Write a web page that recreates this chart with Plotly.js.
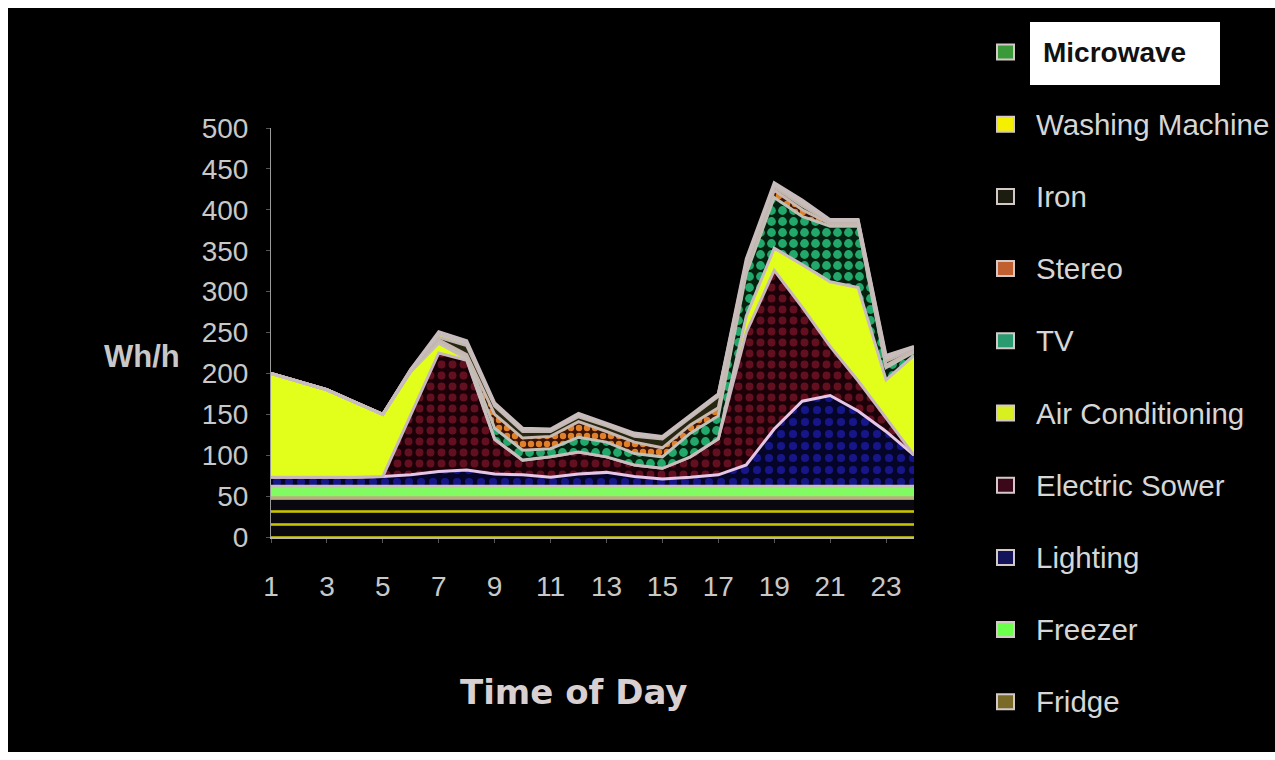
<!DOCTYPE html>
<html><head><meta charset="utf-8">
<script src="https://cdn.plot.ly/plotly-3.0.1.min.js"></script>
<style>
html,body{margin:0;padding:0;background:#ffffff;}
#chart{position:absolute;left:8px;top:8px;width:1267px;height:744px;}
</style></head><body><div id="chart"></div>
<script>
// ---- data (Wh/h per appliance, hours 1..24) ----
const hours = [1,2,3,4,5,6,7,8,9,10,11,12,13,14,15,16,17,18,19,20,21,22,23,24];
const fridge = [48,48,48,48,48,48,48,48,48,48,48,48,48,48,48,48,48,48,48,48,48,48,48,48];
const freezer = [14,14,14,14,14,14,14,14,14,14,14,14,14,14,14,14,14,14,14,14,14,14,14,14];
const lighting = [11,11,11,11,12,14,18,20,15,14,11,15,17,12,9,11,14,26,70,104,111,92,67,38];
const electricSower = [0,0,0,0,0,74,145,134,42,18,25,27,19,14,13,25,44,162,194,115,60,37,16,0];
const airConditioning = [127,117,107,92,76,52,12,2,1,0,0,0,0,0,0,0,0,20,27,52,79,114,47,122];
const tv = [0,0,0,0,0,1,3,3,13,12,10,18,18,14,14,29,28,52,62,59,68,75,15,4];
const stereo = [0,0,0,0,0,0,1,2,17,15,15,19,13,14,11,10,10,5,9,8,3,3,3,2];
const iron = [0,0,0,0,0,1,3,11,10,8,6,6,7,7,11,9,14,5,4,5,2,2,5,2];
const washingMachine = [0,0,0,0,0,1,4,3,2,2,2,2,2,2,2,2,2,4,3,4,2,2,4,2];
const microwave = [0,0,0,0,0,0,3,3,2,2,1,2,1,2,1,1,1,4,2,3,1,1,3,1];

const seriesNames = ['Fridge','Freezer','Lighting','Electric Sower','Air Conditioning','TV','Stereo','Iron','Washing Machine','Microwave'];
const seriesValues = [fridge,freezer,lighting,electricSower,airConditioning,tv,stereo,iron,washingMachine,microwave];
const xTickVals = [1,3,5,7,9,11,13,15,17,19,21,23];
const xTickLabels = ['1','3','5','7','9','11','13','15','17','19','21','23'];
const yTickVals = [0,50,100,150,200,250,300,350,400,450,500];
const yTickLabels = ['0','50','100','150','200','250','300','350','400','450','500'];
const yTitle = 'Wh/h';
const xTitle = 'Time of Day';

// ---- styles ----
const styles = {
  'Fridge':           {fill:'#101008', pattern:{shape:'-', fgcolor:'#c8c400', bgcolor:'#08080e', size:13, solidity:0.2}, line:'#b8ae80', legend:'#7a6a28'},
  'Freezer':          {fill:'#82fa62', line:'#c8bcbc', legend:'#6cff4c'},
  'Lighting':         {fill:'#08083a', pattern:{shape:'.', fgcolor:'#16168a', bgcolor:'#05052a', size:12, solidity:0.35}, line:'#e6c6e6', legend:'#14145a'},
  'Electric Sower':   {fill:'#2a0510', pattern:{shape:'.', fgcolor:'#621020', bgcolor:'#1c0008', size:11, solidity:0.4}, line:'#c8b8bc', legend:'#3a0818'},
  'Air Conditioning': {fill:'#e2ff1c', line:'#c8bcbc', legend:'#d8f020'},
  'TV':               {fill:'#0f6a40', pattern:{shape:'.', fgcolor:'#22a86a', bgcolor:'#04200f', size:11, solidity:0.5}, line:'#c0c0b8', legend:'#2a9a70'},
  'Stereo':           {fill:'#9a4a18', pattern:{shape:'.', fgcolor:'#e08028', bgcolor:'#3a1406', size:8, solidity:0.5}, line:'#c8b8b0', legend:'#c06030'},
  'Iron':             {fill:'#262612', line:'#c0b8b0', legend:'#1c1c10'},
  'Washing Machine':  {fill:'#f0f000', line:'#c8bcbc', legend:'#f4f000'},
  'Microwave':        {fill:'#2e8a2e', line:'#c8bcbc', legend:'#3a9a3a'}
};

const traces = seriesNames.map((name, i) => {
  const st = styles[name];
  const t = {
    type:'scatter', mode:'lines', name:name, x:hours, y:seriesValues[i],
    stackgroup:'one', line:{color:st.line, width:3, shape:'linear'},
    fillcolor:st.fill, showlegend:false, hoverinfo:'skip'
  };
  if (st.pattern) t.fillpattern = Object.assign({fillmode:'replace'}, st.pattern);
  return t;
});

// ---- layout geometry (div coords) ----
const W = 1267, H = 744;
const M = {l:263, r:361, t:120, b:215};
const PW = W - M.l - M.r, PH = H - M.t - M.b;
const px = v => (v - M.l) / PW;
const py = v => 1 - (v - M.t) / PH;

const shapes = [];
const annotations = [];

// custom legend, top item = last stacked series
const legendOrder = seriesNames.slice().reverse();
legendOrder.forEach((name, i) => {
  const cy = 44 + 72.2 * i;
  if (name === 'Microwave') {
    shapes.push({type:'rect', xref:'paper', yref:'paper', x0:px(1022), x1:px(1212), y0:py(77), y1:py(14),
      fillcolor:'#ffffff', line:{width:0}, layer:'above'});
  }
  shapes.push({type:'rect', xref:'paper', yref:'paper', x0:px(989), x1:px(1006), y0:py(cy+7.5), y1:py(cy-7.5),
    fillcolor:styles[name].legend, line:{color:'#d4c8c8', width:2}, layer:'above'});
  annotations.push({
    xref:'paper', yref:'paper', x:px(name === 'Microwave' ? 1033 : 1026), y:py(cy),
    xanchor:'left', yanchor:'middle', showarrow:false,
    text: name === 'Microwave' ? '<b>' + name + '</b>' : name,
    font:{family:'Liberation Sans, Arial, sans-serif', size: name === 'Microwave' ? 28 : 29.5, color: name === 'Microwave' ? '#111111' : '#d6d6d6'}
  });
});

annotations.push({xref:'paper', yref:'paper', x:px(134), y:py(348), xanchor:'center', yanchor:'middle', showarrow:false,
  text:'<b>' + yTitle + '</b>', font:{family:'Liberation Sans, Arial, sans-serif', size:31, color:'#c8c8c8'}});
annotations.push({xref:'paper', yref:'paper', x:px(565), y:py(684), xanchor:'center', yanchor:'middle', showarrow:false,
  text:'<b>' + xTitle + '</b>', font:{family:'DejaVu Sans, sans-serif', size:34, color:'#d8cfd0'}});

const layout = {
  width:W, height:H, margin:M,
  paper_bgcolor:'#000000', plot_bgcolor:'#000000',
  showlegend:false,
  xaxis:{range:[1,24], tickvals:xTickVals, ticktext:xTickLabels, showgrid:false, zeroline:false,
    showline:true, linecolor:'#bdb4b4', linewidth:2, ticks:'outside', ticklen:4, tickcolor:'#555',
    ticklabelstandoff:19,
    tickfont:{family:'Liberation Sans, Arial, sans-serif', size:28, color:'#c8c8c8'}},
  yaxis:{range:[0,500], tickvals:yTickVals, ticktext:yTickLabels, showgrid:false, zeroline:false,
    showline:true, linecolor:'#9a9a9a', linewidth:1, ticks:'outside', ticklen:4, tickcolor:'#555',
    ticklabelstandoff:12,
    tickfont:{family:'Liberation Sans, Arial, sans-serif', size:28, color:'#c8c8c8'}},
  shapes:shapes, annotations:annotations
};

Plotly.newPlot('chart', traces, layout, {displayModeBar:false, staticPlot:true});
</script></body></html>
